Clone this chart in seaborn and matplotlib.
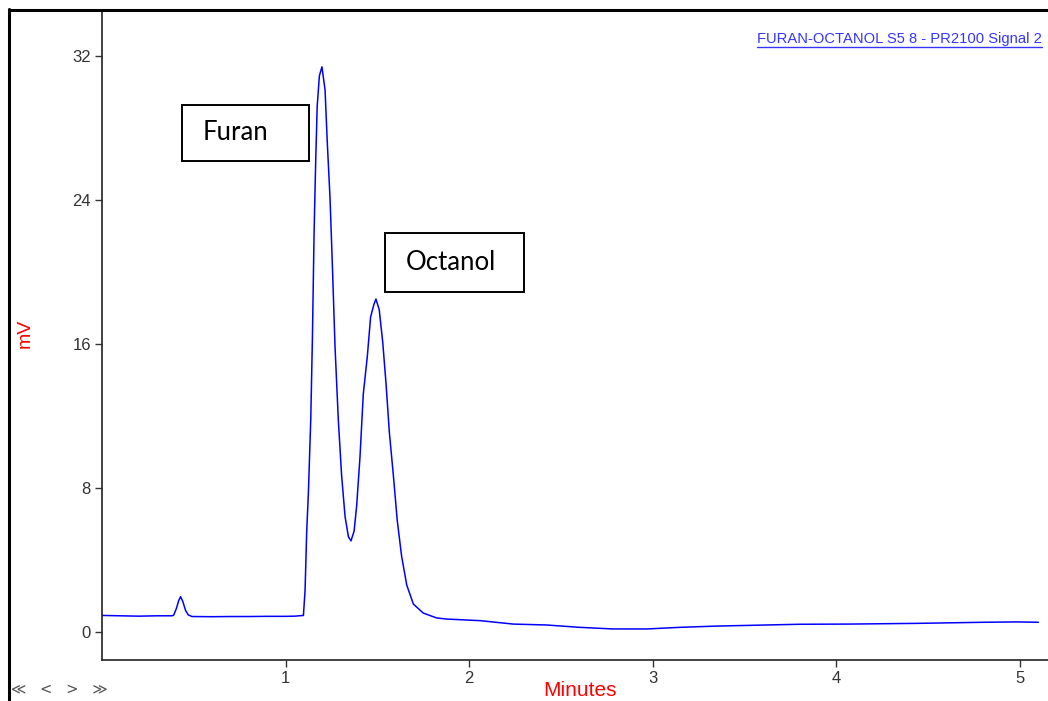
import matplotlib
matplotlib.use("Agg")
import matplotlib.pyplot as plt
import seaborn as sns
import pandas as pd
from matplotlib.lines import Line2D
from matplotlib.patches import Rectangle

# ---- data ----
time_min = [
    0.00, 0.10, 0.20, 0.30, 0.38, 0.39, 0.405, 0.418, 0.428, 0.44, 0.455, 0.47, 0.49,
    0.60, 0.70, 0.80, 0.90, 1.00, 1.05, 1.097,
    1.106, 1.115, 1.124, 1.137, 1.146, 1.155, 1.164, 1.172, 1.184, 1.198,
    1.215, 1.227, 1.242, 1.256, 1.269, 1.287, 1.305, 1.324, 1.342, 1.356,
    1.373, 1.387, 1.405, 1.423, 1.445, 1.463, 1.481, 1.492,
    1.510, 1.529, 1.547, 1.565, 1.587, 1.608, 1.632, 1.660, 1.696, 1.750,
    1.823, 1.877, 2.06, 2.24, 2.42, 2.60, 2.78, 2.97, 3.15, 3.35, 3.53,
    3.80, 4.07, 4.44, 4.80, 4.98, 5.10,
]
signal_mv = [
    0.92, 0.90, 0.88, 0.90, 0.90, 0.93, 1.30, 1.75, 1.96, 1.70, 1.20, 0.95, 0.86,
    0.85, 0.86, 0.86, 0.87, 0.87, 0.88, 0.92,
    2.3, 5.6, 7.7, 11.8, 16.3, 22.1, 26.2, 29.2, 30.9, 31.4,
    30.1, 27.2, 24.1, 20.0, 15.9, 11.8, 8.7, 6.4, 5.3, 5.06,
    5.6, 7.0, 9.7, 13.2, 15.3, 17.5, 18.2, 18.5,
    17.9, 16.1, 13.8, 11.1, 8.7, 6.2, 4.2, 2.6, 1.55, 1.05,
    0.78, 0.72, 0.63, 0.44, 0.39, 0.26, 0.17, 0.17, 0.26, 0.33, 0.37,
    0.43, 0.44, 0.48, 0.54, 0.56, 0.54,
]
y_ticks = [0, 8, 16, 24, 32]
x_ticks = [1, 2, 3, 4, 5]
peak_labels = ["Furan", "Octanol"]
title_text = "FURAN-OCTANOL S5 8 - PR2100 Signal 2"

df = pd.DataFrame({"Minutes": time_min, "mV": signal_mv})

sns.set_style("white")
plt.rcParams["font.family"] = ["Liberation Sans", "DejaVu Sans"]

W, H = 1048, 701
fig = plt.figure(figsize=(W / 100, H / 100), dpi=100)
ax_l, ax_r, ax_t, ax_b = 102, 1048, 10, 660
ax = fig.add_axes([ax_l / W, 1 - ax_b / H, (ax_r - ax_l) / W, (ax_b - ax_t) / H])

sns.lineplot(data=df, x="Minutes", y="mV", ax=ax, color="#0000ff",
             linewidth=1.1, estimator=None, sort=False)

ax.set_xlim(0, (ax_r - ax_l) / 183.6)
ax.set_ylim((632 - ax_b) / 18.0, (632 - ax_t) / 18.0)
ax.set_xticks(x_ticks)
ax.set_yticks(y_ticks)
ax.set_xticklabels([str(v) for v in x_ticks])
ax.set_yticklabels([str(v) for v in y_ticks])
ax.tick_params(axis="both", which="major", direction="out", length=5, width=1,
               color="#333333", labelcolor="#333333", labelsize=12, pad=3,
               bottom=True, left=True)
for s in ["top", "right"]:
    ax.spines[s].set_visible(False)
for s in ["left", "bottom"]:
    ax.spines[s].set_visible(True)
    ax.spines[s].set_color("#222222")
    ax.spines[s].set_linewidth(1.2)
ax.set_xlabel("")
ax.set_ylabel("")
ax.grid(False)

# axis titles in red
fig.text(580 / W, 1 - 691 / H, "Minutes", color="#ff0000", fontsize=15,
         ha="center", va="center")
fig.text(25 / W, 1 - 333 / H, "mV", color="#ff0000", fontsize=14,
         ha="center", va="center", rotation=90)

# peak label boxes (axes-fraction placement)
axw, axh = ax_r - ax_l, ax_b - ax_t
boxes = [
    (182, 105, 309, 161, 203, 133),
    (385, 233, 524, 292, 406, 262),
]
for lab, (x0, y0, x1, y1, tx, ty) in zip(peak_labels, boxes):
    ax.add_patch(Rectangle(((x0 - ax_l) / axw, (ax_b - y1) / axh),
                           (x1 - x0) / axw, (y1 - y0) / axh,
                           transform=ax.transAxes, fill=False,
                           edgecolor="black", linewidth=1.4, zorder=5))
    ax.text((tx - ax_l) / axw, (ax_b - ty) / axh, lab, transform=ax.transAxes,
            fontsize=18.5, family=["Lato", "DejaVu Sans"], color="black",
            ha="left", va="center", zorder=6)

# title link text, underlined
t = fig.text(757 / W, 1 - 39 / H, title_text, color="#3535ff", fontsize=10.6,
             ha="left", va="center")
fig.canvas.draw()
bb = t.get_window_extent()
uy = bb.y0 - 1
fig.add_artist(Line2D([bb.x0 / W, bb.x1 / W], [uy / H, uy / H],
                      transform=fig.transFigure, color="#3535ff", linewidth=1))

# navigation arrows
fig.text(11 / W, 1 - 690 / H, "≪   <   >   ≫", color="#555555", fontsize=10.5,
         family=["DejaVu Sans"], ha="left", va="center")

# outer frame (left and top)
fig.add_artist(Line2D([8.5 / W, 8.5 / W], [0, 1 - 9 / H], transform=fig.transFigure,
                      color="black", linewidth=2.2))
fig.add_artist(Line2D([8.5 / W, 1], [1 - 9.5 / H, 1 - 9.5 / H],
                      transform=fig.transFigure, color="black", linewidth=2.2))

fig.savefig("out.png", dpi=100)
